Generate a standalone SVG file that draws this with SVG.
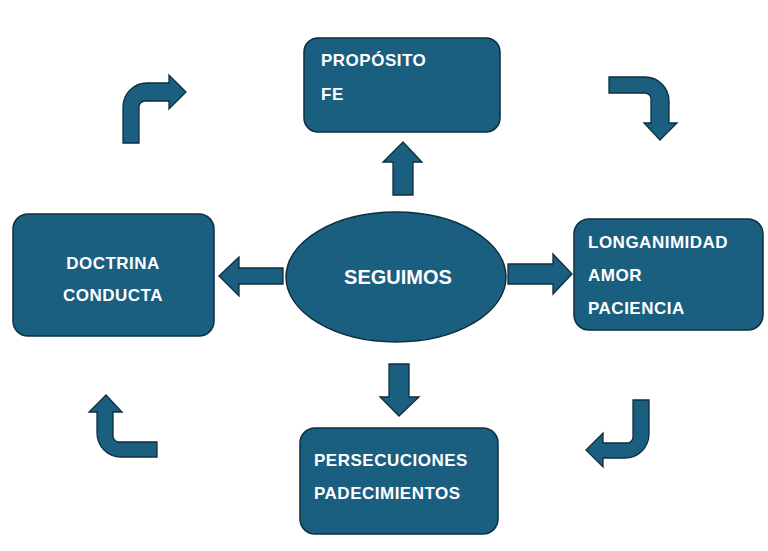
<svg xmlns="http://www.w3.org/2000/svg" width="768" height="551" viewBox="0 0 768 551">
<style>
.shape{fill:#1a5e80;stroke:#0f2e3e;stroke-width:1.5}
.arrow{fill:#1a5e80;stroke:#0f2e3e;stroke-width:1.3;stroke-linejoin:miter}
.t{font-family:"Liberation Sans",Arial,sans-serif;font-weight:bold;font-size:17px;letter-spacing:0.5px;fill:#ffffff}
.big{font-size:20px;letter-spacing:0px}
</style>
<rect width="768" height="551" fill="#ffffff"/>
<g id="connectors">
<path class="arrow" d="M403,142 L422,162 H413 V195 H393 V162 H383 Z"/>
<path class="arrow" d="M219,276 L239,257 V268 H283 V284 H239 V296 Z"/>
<path class="arrow" d="M572,274 L553,254 V264 H508 V284 H553 V294 Z"/>
<path class="arrow" d="M399,416 L419,397 H409 V364 H389 V397 H380 Z"/>
<path class="arrow" d="M123,143 V107 A24,24 0 0 1 147,83 H169 V75 L186,92 L169,109 V101 H145 A6,6 0 0 0 139,107 V143 Z"/>
<path class="arrow" d="M609,77 H645 A24,24 0 0 1 669,101 V123 H677 L660,140 L644,123 H651 V99 A6,6 0 0 0 645,93 H609 Z"/>
<path class="arrow" d="M633,400 H649 V434 A24,24 0 0 1 625,458 H603 V467 L586,450 L603,433 V443 H627 A6,6 0 0 0 633,437 Z"/>
<path class="arrow" d="M106,395 L122,412 H113 V436 A6,6 0 0 0 119,442 H157 V457 H121 A24,24 0 0 1 97,433 V412 H89 Z"/>
</g>
<g id="node-proposito">
<rect class="shape" x="304" y="38" width="196" height="94" rx="14"/>
<text class="t" x="321" y="66">PROPÓSITO</text>
<text class="t" x="321" y="100">FE</text>
</g>
<g id="node-seguimos">
<ellipse class="shape" cx="396" cy="277" rx="110" ry="65"/>
<text class="t big" x="398" y="284" text-anchor="middle">SEGUIMOS</text>
</g>
<g id="node-doctrina">
<rect class="shape" x="13" y="214" width="201" height="122" rx="15"/>
<text class="t" x="113" y="269" text-anchor="middle">DOCTRINA</text>
<text class="t" x="113" y="301" text-anchor="middle">CONDUCTA</text>
</g>
<g id="node-longanimidad">
<rect class="shape" x="574" y="219" width="189" height="111" rx="15"/>
<text class="t" x="588" y="248">LONGANIMIDAD</text>
<text class="t" x="588" y="281">AMOR</text>
<text class="t" x="588" y="314">PACIENCIA</text>
</g>
<g id="node-persecuciones">
<rect class="shape" x="300" y="428" width="198" height="106" rx="15"/>
<text class="t" x="314" y="466">PERSECUCIONES</text>
<text class="t" x="314" y="499">PADECIMIENTOS</text>
</g>
</svg>
